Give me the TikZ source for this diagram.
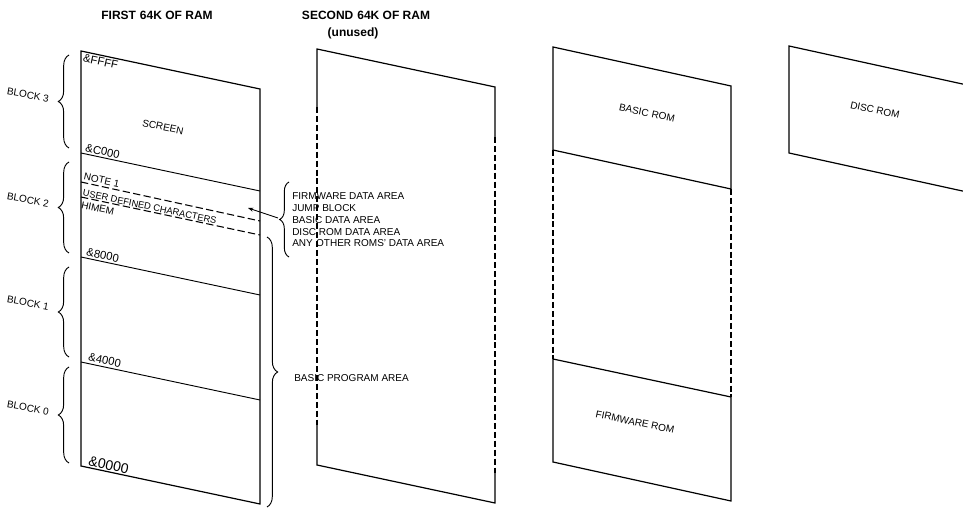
\documentclass[tikz,border=0pt]{standalone}
\usepackage{fontspec}
\setmainfont{Liberation Sans}
\usetikzlibrary{calc, decorations.pathreplacing, arrows.meta}

\begin{document}
\begin{tikzpicture}[x=0.75pt, y=-0.75pt,
  edge/.style={line width=0.9pt, line join=miter},
  gap/.style={line width=0.9pt, dash pattern=on 4.5pt off 2.2pt},
  memdash/.style={line width=0.8pt, dash pattern=on 5.5pt off 2.5pt},
  brc/.style={line width=0.7pt, decorate, decoration={brace, amplitude=8pt}},
  ttl/.style={font=\fontsize{9}{10.5}\selectfont\bfseries, inner sep=0pt},
  lbl/.style={font=\fontsize{7.5}{9}\selectfont, inner sep=1pt, rotate=-12},
  addr/.style={font=\fontsize{8.5}{10}\selectfont, inner sep=1pt, rotate=-12},
  blk/.style={font=\fontsize{7.5}{9}\selectfont, inner sep=0pt, rotate=-10},
  side/.style={font=\fontsize{7.5}{8.8}\selectfont, align=left, inner sep=0pt, anchor=west},
]
\useasboundingbox (0,0) rectangle (963,509);

\node[ttl] (first) at (157,15) {FIRST\,\,64K OF RAM};
\node[ttl] (second) at (366,15) {SECOND\,\,64K OF RAM};
\node[ttl] (unused) at (353,33) {(unused)};

% first 64K
\draw[edge] (81,51) -- (260,89) -- (260,504) -- (81,466) -- cycle;
\foreach \y in {153,257,362}
  \draw[line width=0.7pt] (81,\y) -- (260,\y+38);
\draw[memdash] (81,182) -- (260,221);
\draw[memdash] (81,197) -- (260,235);

\node[addr, anchor=north west] (aFFFF) at (83,52) {\&FFFF};
\node[lbl] (screen) at (163,127) {SCREEN};
\node[addr, anchor=south west] (aC000) at (83,153) {\&C000};
\node[lbl, anchor=south west, inner sep=0pt] (note) at (83,180) {NOTE 1};
\node[lbl, anchor=south west, inner sep=0pt, font=\fontsize{7}{8}\selectfont] (udc) at (82,196) {USER DEFINED CHARACTERS};
\node[lbl, anchor=north west, inner sep=0pt] (himem) at (82,201) {HIMEM};
\node[addr, anchor=south west] (a8000) at (84,257) {\&8000};
\node[addr, anchor=south west] (a4000) at (86,362) {\&4000};
\node[addr, anchor=south west, font=\fontsize{10.5}{12}\selectfont] (a0000) at (86,467) {\&0000};

\draw[brc] (69,148) -- (69,55);
\draw[brc] (69,253) -- (69,162);
\draw[brc] (69,357) -- (69,267);
\draw[brc] (69,463) -- (69,367);
\node[blk] (blk3) at (28,95) {BLOCK 3};
\node[blk] (blk2) at (28,200) {BLOCK 2};
\node[blk] (blk1) at (28,303) {BLOCK 1};
\node[blk] (blk0) at (28,408) {BLOCK 0};

\draw[brc, decoration={amplitude=7pt}] (289,257) -- (289,182);
\coordinate (fwtip) at (278,218);
\coordinate (fwin) at (248,208);
\draw[line width=0.7pt, -{Stealth[length=4pt, width=3pt]}] (fwtip) -- (fwin);
\node[side] (fwdata) at (292,220) {FIRMWARE DATA AREA\\JUMP BLOCK\\BASIC DATA AREA\\DISC ROM DATA AREA\\ANY\,\,OTHER ROMS' DATA AREA};

\draw[brc] (267,237) -- (267,507);
\node[side] (basprog) at (294,378) {BASIC PROGRAM AREA};

% second 64K
\draw[edge] (317,107) -- (317,49) -- (495,87) -- (495,137);
\draw[gap] (317,107) -- (317,425);
\draw[gap] (495,137) -- (495,473);
\draw[edge] (317,425) -- (317,465) -- (495,503) -- (495,473);

% roms
\draw[edge] (553,47) -- (731,86) -- (731,189) -- (553,150) -- cycle;
\draw[gap] (553,150) -- (553,359);
\draw[gap] (731,189) -- (731,397);
\draw[edge] (553,359) -- (731,397) -- (731,501) -- (553,462) -- cycle;
\node[lbl] (basicrom) at (647,113) {BASIC\,\,ROM};
\node[lbl] (firmrom) at (635,422) {FIRMWARE ROM};

\draw[edge] (789,46) -- (967,85) -- (967,192) -- (789,153) -- cycle;
\node[lbl] (discrom) at (875,110) {DISC ROM};
\end{tikzpicture}
\end{document}
